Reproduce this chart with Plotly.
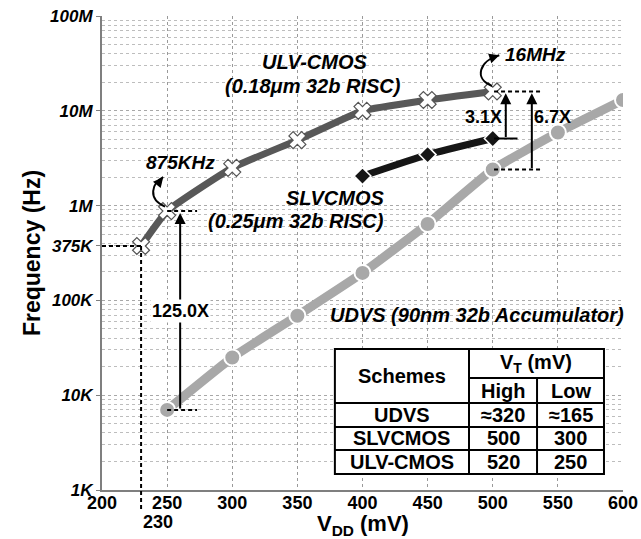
import math
import plotly.graph_objects as go

# ---------------- data ----------------
vdd_ulv = [230, 250, 300, 350, 400, 450, 500]
freq_ulv = [375e3, 875e3, 2.5e6, 4.9e6, 10e6, 13e6, 16e6]

vdd_slv = [400, 450, 500]
freq_slv = [2.05e6, 3.45e6, 5.1e6]

vdd_udvs = [250, 300, 350, 400, 450, 500, 550, 600]
freq_udvs = [7e3, 25e3, 69e3, 195e3, 640e3, 2.4e6, 5.9e6, 13e6]

y_tickvals = [1e3, 1e4, 1e5, 375e3, 1e6, 1e7, 1e8]
y_ticktext = ["1K", "10K", "100K", "375K", "1M", "10M", "100M"]
x_tickvals = [200, 250, 300, 350, 400, 450, 500, 550, 600]

table_header = ["Schemes", "V<sub>T</sub> (mV)", "High", "Low"]
table_schemes = ["UDVS", "SLVCMOS", "ULV-CMOS"]
table_high = ["≈320", "500", "520"]
table_low = ["≈165", "300", "250"]

ratio_labels = ["125.0X", "3.1X", "6.7X"]

X_RANGE = [200, 600]
Y_RANGE = [3, 8]  # log10
FONT = "Liberation Sans, Arial, sans-serif"


def xp(v):
    return (v - X_RANGE[0]) / (X_RANGE[1] - X_RANGE[0])


def yp(v):
    return (math.log10(v) - Y_RANGE[0]) / (Y_RANGE[1] - Y_RANGE[0])


L = math.log10

fig = go.Figure()

fig.add_trace(go.Scatter(
    x=vdd_udvs, y=freq_udvs, mode="lines+markers", name="UDVS",
    line=dict(color="#a8a8a8", width=9, shape="spline", smoothing=0.4),
    marker=dict(symbol="circle", size=16, color="#a8a8a8",
                line=dict(color="white", width=2)),
))
fig.add_trace(go.Scatter(
    x=vdd_slv, y=freq_slv, mode="lines+markers", name="SLVCMOS",
    line=dict(color="#161616", width=7, shape="spline", smoothing=0.4),
    marker=dict(symbol="diamond", size=13, color="#161616",
                line=dict(color="white", width=1.5)),
))
fig.add_trace(go.Scatter(
    x=vdd_ulv, y=freq_ulv, mode="lines+markers", name="ULV-CMOS",
    line=dict(color="#585858", width=7, shape="spline", smoothing=0.4),
    marker=dict(symbol="x", size=15, color="white",
                line=dict(color="#555555", width=1.2)),
))

shapes = []
dash = "4px,3px"
# 375K guide lines
shapes.append(dict(type="line", xref="x", yref="y", x0=200, x1=vdd_ulv[0],
                   y0=freq_ulv[0], y1=freq_ulv[0],
                   line=dict(color="black", width=2, dash=dash)))
shapes.append(dict(type="line", xref="paper", yref="paper",
                   x0=xp(vdd_ulv[0]), x1=xp(vdd_ulv[0]),
                   y0=yp(freq_ulv[0]), y1=-0.042,
                   line=dict(color="black", width=2, dash=dash)))
# 125X guides
for f in [freq_ulv[1], freq_udvs[0]]:
    shapes.append(dict(type="line", xref="x", yref="y", x0=250, x1=273,
                       y0=f, y1=f, line=dict(color="black", width=2, dash=dash)))
# 3.1X / 6.7X guides
shapes.append(dict(type="line", xref="x", yref="y", x0=501, x1=538,
                   y0=freq_ulv[-1], y1=freq_ulv[-1],
                   line=dict(color="black", width=2, dash=dash)))
shapes.append(dict(type="line", xref="x", yref="y", x0=501, x1=538,
                   y0=freq_udvs[5], y1=freq_udvs[5],
                   line=dict(color="black", width=2, dash=dash)))
shapes.append(dict(type="line", xref="x", yref="y", x0=501, x1=519,
                   y0=freq_slv[-1], y1=freq_slv[-1],
                   line=dict(color="black", width=2)))


def curl(pts):
    # pts in (mV, log10 f)
    (a, b, c, d) = pts
    return "M {},{} C {},{} {},{} {},{}".format(
        a[0], 10 ** a[1], b[0], 10 ** b[1], c[0], 10 ** c[1], d[0], 10 ** d[1])


# curly pointer arrows (S-shaped)
curl_875 = [(248.4, 5.99), (234.5, 6.07), (238.5, 6.24), (247.0, 6.30)]
curl_16m = [(499.4, 7.262), (485.0, 7.34), (490.0, 7.53), (505.0, 7.585)]
shapes.append(dict(type="path", xref="x", yref="y", path=curl(curl_875),
                   line=dict(color="black", width=2)))
shapes.append(dict(type="path", xref="x", yref="y", path=curl(curl_16m),
                   line=dict(color="black", width=2)))

# ---- table (paper coordinates) ----
col_edges = [0.447, 0.7044, 0.835, 0.9635]
row_edges = [0.2975, 0.2363, 0.1835, 0.1329, 0.0844, 0.0338]
shapes.append(dict(type="rect", xref="paper", yref="paper",
                   x0=col_edges[0], x1=col_edges[-1], y0=row_edges[-1], y1=row_edges[0],
                   fillcolor="white", line=dict(color="black", width=2), layer="above"))
shapes.append(dict(type="line", xref="paper", yref="paper",
                   x0=col_edges[1], x1=col_edges[1], y0=row_edges[-1], y1=row_edges[0],
                   line=dict(color="black", width=2)))
shapes.append(dict(type="line", xref="paper", yref="paper",
                   x0=col_edges[2], x1=col_edges[2], y0=row_edges[-1], y1=row_edges[1],
                   line=dict(color="black", width=2)))
shapes.append(dict(type="line", xref="paper", yref="paper",
                   x0=col_edges[1], x1=col_edges[3], y0=row_edges[1], y1=row_edges[1],
                   line=dict(color="black", width=2)))
for r in row_edges[2:5]:
    shapes.append(dict(type="line", xref="paper", yref="paper",
                       x0=col_edges[0], x1=col_edges[3], y0=r, y1=r,
                       line=dict(color="black", width=2)))

ann = []
tf = dict(family=FONT, size=20, color="black", weight="bold")


def cell(text, x, y):
    ann.append(dict(text=text, x=x, y=y, xref="paper", yref="paper", showarrow=False,
                    xanchor="center", yanchor="middle", font=tf))


cx = [(col_edges[i] + col_edges[i + 1]) / 2 for i in range(3)]
cell(table_header[0], cx[0], (row_edges[0] + row_edges[2]) / 2)
cell(table_header[1], (col_edges[1] + col_edges[3]) / 2, (row_edges[0] + row_edges[1]) / 2)
cell(table_header[2], cx[1], (row_edges[1] + row_edges[2]) / 2)
cell(table_header[3], cx[2], (row_edges[1] + row_edges[2]) / 2)
for i in range(3):
    ym = (row_edges[2 + i] + row_edges[3 + i]) / 2
    cell(table_schemes[i], cx[0], ym)
    cell(table_high[i], cx[1], ym)
    cell(table_low[i], cx[2], ym)

lf = dict(family=FONT, size=20, color="black", weight="bold", style="italic")
sf = dict(family=FONT, size=19, color="black", weight="bold", style="italic")
ann += [
    dict(text="ULV-CMOS", x=363, y=7.515, showarrow=False, font=lf),
    dict(text="(0.18μm 32b RISC)", x=362, y=7.262, showarrow=False, font=lf),
    dict(text="SLVCMOS", x=418, y=6.08, xanchor="right", showarrow=False, font=lf),
    dict(text="(0.25μm 32b RISC)", x=418, y=5.838, xanchor="right", showarrow=False, font=lf),
    dict(text="UDVS (90nm 32b Accumulator)", x=488, y=4.846, showarrow=False, font=lf),
    dict(text="875KHz", x=260, y=6.45, showarrow=False, font=sf),
    dict(text="16MHz", x=507.5, y=7.59, xanchor="left", showarrow=False, font=sf),
    dict(text="230", x=xp(vdd_ulv[0]), y=-0.068, xref="paper", yref="paper",
         showarrow=False, yanchor="middle",
         font=dict(family=FONT, size=18, color="black", weight="bold")),
    dict(text="V<sub>DD</sub> (mV)", x=0.5, y=-0.0735, xref="paper", yref="paper",
         showarrow=False, yanchor="middle",
         font=dict(family=FONT, size=22, color="black", weight="bold")),
]
# curl arrowheads
ann.append(dict(x=curl_875[-1][0], y=curl_875[-1][1], ax=-5, ay=6, showarrow=True,
                arrowhead=2, arrowwidth=2, arrowsize=1, arrowcolor="black", text=""))
ann.append(dict(x=curl_16m[-1][0], y=curl_16m[-1][1], ax=-9, ay=3, showarrow=True,
                arrowhead=2, arrowwidth=2, arrowsize=1, arrowcolor="black", text=""))
# ratio arrows
arrows = [(260, freq_udvs[0], freq_ulv[1]), (510, freq_slv[-1], freq_ulv[-1]),
          (530, freq_udvs[5], freq_ulv[-1])]
for xv, ylo, yhi in arrows:
    ann.append(dict(x=xv, y=L(yhi) - 0.02, ax=xv, ay=L(ylo), axref="x", ayref="y",
                    showarrow=True, arrowhead=2, arrowwidth=2, arrowsize=1.1,
                    arrowcolor="black", text=""))
rf = dict(family=FONT, size=18, color="black", weight="bold")
ann.append(dict(text=ratio_labels[0], x=260, y=4.89, showarrow=False, font=rf,
                bgcolor="white"))
ann.append(dict(text=ratio_labels[1], x=509, y=6.935, xanchor="right", showarrow=False, font=rf))
ann.append(dict(text=ratio_labels[2], x=530.5, y=6.935, xanchor="left", showarrow=False, font=rf))

fig.update_layout(
    width=641, height=539,
    margin=dict(l=102, r=18, t=16, b=49),
    paper_bgcolor="white", plot_bgcolor="white",
    showlegend=False,
    shapes=shapes, annotations=ann,
    font=dict(family=FONT, color="black"),
)
fig.update_xaxes(
    range=X_RANGE, tickmode="array", tickvals=x_tickvals, automargin=False,
    tickfont=dict(family=FONT, size=18, color="black", weight="bold"),
    showline=True, linecolor="#7f7f7f", linewidth=2, ticks="", ticklabelstandoff=-5,
    showgrid=True, gridcolor="#9a9a9a", griddash="dot", gridwidth=1, zeroline=False,
)
fig.update_yaxes(
    type="log", range=Y_RANGE, tickmode="array", tickvals=y_tickvals, ticktext=y_ticktext,
    automargin=False,
    tickfont=dict(family=FONT, size=17, color="black", weight="bold", style="italic"),
    showline=True, linecolor="#7f7f7f", linewidth=2, ticks="outside", ticklen=4,
    tickcolor="#7f7f7f",
    showgrid=True, gridcolor="#a8a8a8", griddash="dot", gridwidth=1, zeroline=False,
    minor=dict(dtick="D1", showgrid=True, gridcolor="#bdbdbd", griddash="dot", ticks=""),
    title=dict(text="Frequency (Hz)", standoff=3,
               font=dict(family=FONT, size=23, color="black", weight="bold")),
)

fig.write_html("out.html", config={"displayModeBar": False},
               post_script="document.body.style.margin='0';document.body.style.overflow='hidden';")
